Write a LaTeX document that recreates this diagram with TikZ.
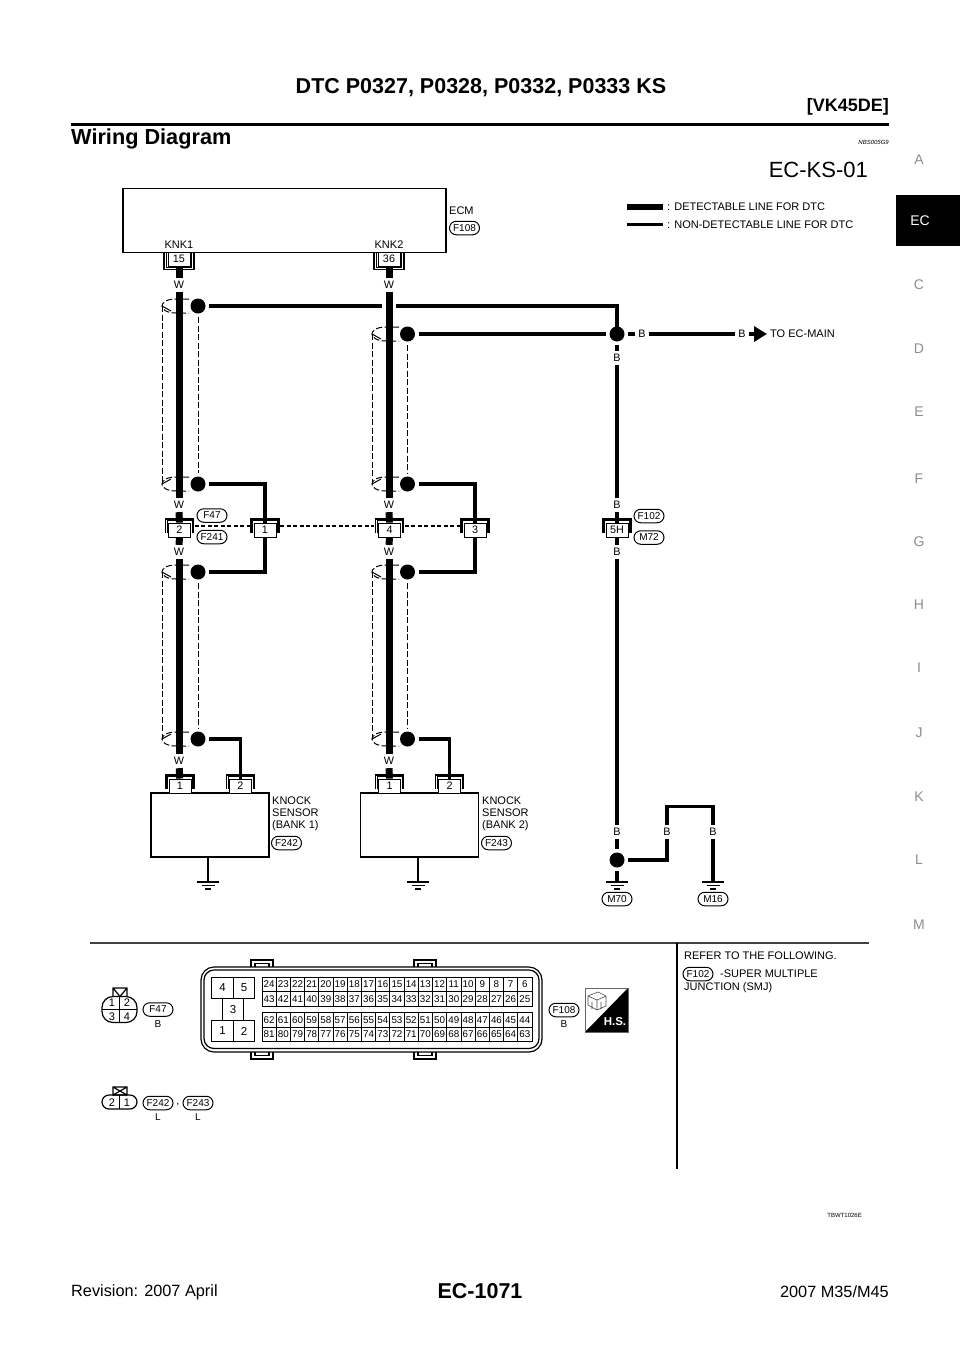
\documentclass[tikz,border=0pt]{standalone}
\usepackage{fontspec}
\setmainfont{Liberation Sans}
\usetikzlibrary{arrows.meta,shapes.misc}
\newcommand{\sizept}[1]{\fontsize{#1}{#1}\selectfont}
\tikzset{
	heavy/.style={line width=7pt},
	light/.style={line width=3.3pt},
	shieldline/.style={line width=1pt,dash pattern=on 6pt off 2.5pt},
	linkline/.style={line width=1.4pt,dash pattern=on 4pt off 2.5pt},
	thinline/.style={line width=1.2pt},
	jointdot/.style={circle,fill=black,inner sep=0pt,minimum size=15pt,outer sep=3.5pt},
	wirelabel/.style={inner sep=0pt,minimum size=14pt,font=\sizept{10.8}},
	pinbox/.style={draw,line width=0.9pt,fill=white,inner sep=0pt,minimum width=22pt,minimum height=14pt,font=\sizept{10.8}},
	cellbox/.style={draw,line width=0.8pt,inner sep=0pt,minimum width=14.21pt,minimum height=14.5pt,font=\sizept{9.8}},
	bigcell/.style={draw,line width=1.1pt,inner sep=0pt,minimum width=21.5pt,minimum height=21.5pt,font=\sizept{11.5}},
	pill/.style={draw,rounded rectangle,line width=1pt,inner sep=0pt,minimum width=30pt,minimum height=13.5pt,font=\sizept{10}},
	note/.style={anchor=west,inner sep=0pt,font=\sizept{11}},
	plain/.style={inner sep=0pt,font=\sizept{11}},
	sideletter/.style={inner sep=0pt,text=black!45,font=\sizept{14}},
}
% connector below a box: name, x, top, label
\newcommand{\pinhang}[4]{%
	\node[pinbox] (#1) at (#2,#3+6.5) {#4};
	\draw[thinline] (#2-15,#3) -- (#2-15,#3+17) -- (#2+15,#3+17) -- (#2+15,#3);
	\draw[line width=0.8pt] (#2-12.5,#3) -- (#2-12.5,#3+15) -- (#2+12.5,#3+15) -- (#2+12.5,#3);
}
% connector entered from above: name, x, middle, label
\newcommand{\pinstand}[4]{%
	\node[pinbox] (#1) at (#2,#3) {#4};
	\draw[thinline] (#2-14,#3+3) -- (#2-14,#3-11) -- (#2+14,#3-11) -- (#2+14,#3+3);
	\draw[line width=0.8pt] (#2-12.5,#3+3) -- (#2-12.5,#3-9.5) -- (#2+12.5,#3-9.5) -- (#2+12.5,#3+3);
}
% ground: name, x, y
\newcommand{\earth}[3]{%
	\coordinate (#1) at (#2,#3);
	\draw[thinline] (#2-11,#3) -- (#2+11,#3) (#2-6.5,#3+3.5) -- (#2+6.5,#3+3.5) (#2-3,#3+7) -- (#2+3,#3+7);
}
% cable shield: wire x, upper y, lower y
\newcommand{\shieldring}[3]{%
	\draw[shieldline] (#1+10,#2-7) -- (#1-3,#2-7) .. controls (#1-13,#2-7) and (#1-17,#2-3) .. (#1-17,#2) .. controls (#1-17,#2+3) and (#1-13,#2+7) .. (#1-3,#2+7) -- (#1+10,#2+7);
	\draw[shieldline] (#1+10,#3-7) -- (#1-3,#3-7) .. controls (#1-13,#3-7) and (#1-17,#3-3) .. (#1-17,#3) .. controls (#1-17,#3+3) and (#1-13,#3+7) .. (#1-3,#3+7) -- (#1+10,#3+7);
	\draw[line width=1pt] (#1-17,#2) -- (#1-8,#2+5) (#1-17,#3) -- (#1-8,#3-5);
	\draw[shieldline] (#1-17,#2) -- (#1-17,#3);
}
\begin{document}
\begin{tikzpicture}[x=1pt,y=-1pt]
	\useasboundingbox (0,0) rectangle (960,1358);
	% page header
	\node[inner sep=0pt,font=\sizept{21.5}\bfseries] (title) at (481,88) {DTC P0327, P0328, P0332, P0333 KS};
	\node[anchor=east,inner sep=0pt,font=\sizept{18}\bfseries] (engine) at (889,107) {[VK45DE]};
	\draw[line width=3pt] (71,124) -- (889,124);
	\node[anchor=west,inner sep=0pt,font=\sizept{21.7}\bfseries] (heading) at (71,139) {Wiring Diagram};
	\node[anchor=east,inner sep=0pt,font=\sizept{6}\itshape] (refcode) at (889,142) {NBS005G9};
	\node[anchor=east,inner sep=0pt,font=\sizept{22}] (sheet) at (868,170) {EC-KS-01};
	% section tabs
	\fill (896,195) rectangle (960,246);
	\node[inner sep=0pt,text=white,font=\sizept{14}] (tabEC) at (920,221) {EC};
	\foreach \l/\y in {A/160,C/285,D/349,E/412,F/479,G/542,H/605,I/668,J/733,K/797,L/860,M/925}
		\node[sideletter] (tab\l) at (919,\y) {\l};
	% the ECM
	\node[draw,line width=1.3pt,minimum width=323pt,minimum height=64pt,inner sep=0pt] (ecm) at (284.5,220.5) {};
	\node[plain] (knkA) at (179,245) {KNK1};
	\node[plain] (knkB) at (389,245) {KNK2};
	\node[note] (ecmText) at (449,211) {ECM};
	\node[pill] (harnessFa) at (464.5,228) {F108};
	\pinhang{pinA}{179}{252.5}{15}
	\pinhang{pinB}{389}{252.5}{36}
	% legend
	\coordinate (legendA) at (627,207);
	\coordinate (legendB) at (627,224.5);
	\node[note,inner xsep=4pt] (legendDet) at (663,207) {: DETECTABLE LINE FOR DTC};
	\node[note,inner xsep=4pt] (legendNon) at (663,224.5) {: NON-DETECTABLE LINE FOR DTC};
	\draw[line width=6.5pt] (legendA) -- (legendDet);
	\draw[light] (legendB) -- (legendNon);
	% shields - must be drawn before the wires!
	\shieldring{179}{306}{484}
	\shieldring{389}{334}{484}
	\shieldring{179}{572}{739}
	\shieldring{389}{572}{739}
	% joints of the shields
	\node[jointdot] (dotA) at (198,306) {};
	\node[jointdot] (dotB) at (198,484) {};
	\node[jointdot] (dotC) at (198,572) {};
	\node[jointdot] (dotD) at (198,739) {};
	\node[jointdot] (dotE) at (407.5,334) {};
	\node[jointdot] (dotF) at (407.5,484) {};
	\node[jointdot] (dotG) at (407.5,572) {};
	\node[jointdot] (dotH) at (407.5,739) {};
	\node[jointdot] (dotJ) at (617,334) {};
	\node[jointdot] (dotK) at (617,860) {};
	\draw[shieldline] (dotA) -- (dotB);
	\draw[shieldline] (dotC) -- (dotD);
	\draw[shieldline] (dotE) -- (dotF);
	\draw[shieldline] (dotG) -- (dotH);
	% wire colours, first bank
	\node[wirelabel] (wireA) at (179,285) {W};
	\node[wirelabel] (wireB) at (179,505) {W};
	\node[wirelabel] (wireC) at (179,552) {W};
	\node[wirelabel] (wireD) at (179,761) {W};
	% wire colours, second bank
	\node[wirelabel] (wireE) at (389,285) {W};
	\node[wirelabel] (wireF) at (389,505) {W};
	\node[wirelabel] (wireG) at (389,552) {W};
	\node[wirelabel] (wireH) at (389,761) {W};
	% middle connectors
	\pinstand{pinC}{179.5}{530}{2}
	\pinstand{pinD}{265}{530}{1}
	\pinstand{pinE}{389.5}{530}{4}
	\pinstand{pinF}{475}{530}{3}
	\pinstand{pinG}{617}{530}{5H}
	\draw[linkline] ([shift={(4pt,4pt)}]pinC.east) -- ([shift={(-4pt,4pt)}]pinD.west);
	\draw[linkline] ([shift={(4pt,4pt)}]pinD.east) -- ([shift={(-4pt,4pt)}]pinE.west);
	\draw[linkline] ([shift={(4pt,4pt)}]pinE.east) -- ([shift={(-4pt,4pt)}]pinF.west);
	\node[pill] (harnessFb) at (212,515.5) {F47};
	\node[pill] (harnessFc) at (212,537) {F241};
	\node[pill] (harnessFd) at (649,516) {F102};
	\node[pill] (harnessMa) at (649,537.5) {M72};
	% knock sensors
	\node[draw,line width=1.3pt,minimum width=118pt,minimum height=64pt,inner sep=0pt] (sensorA) at (210,825) {};
	\node[draw,line width=1.3pt,minimum width=118pt,minimum height=64pt,inner sep=0pt] (sensorB) at (419.5,825) {};
	\pinstand{pinH}{180}{786}{1}
	\pinstand{pinJ}{240.5}{786}{2}
	\pinstand{pinK}{389.5}{786}{1}
	\pinstand{pinL}{449.5}{786}{2}
	\node[anchor=north west,align=left,inner sep=0pt,font=\fontsize{11}{11.8}\selectfont] (sensorAText) at (272,797) {KNOCK\\SENSOR\\(BANK 1)};
	\node[anchor=north west,align=left,inner sep=0pt,font=\fontsize{11}{11.8}\selectfont] (sensorBText) at (482,797) {KNOCK\\SENSOR\\(BANK 2)};
	\node[pill] (harnessFe) at (286.5,843) {F242};
	\node[pill] (harnessFf) at (496.5,843) {F243};
	\earth{groundA}{208}{882}
	\earth{groundB}{418}{882}
	\draw[thinline] (sensorA.south -| groundA) -- (groundA);
	\draw[thinline] (sensorB.south -| groundB) -- (groundB);
	% heavy wires
	\draw[heavy] (pinA) -- (wireA);
	\draw[heavy] (wireA) -- (wireB);
	\draw[heavy] (wireB) -- (pinC);
	\draw[heavy] (pinC) -- (wireC);
	\draw[heavy] (wireC) -- (wireD);
	\draw[heavy] (wireD) -- (pinH);
	\draw[heavy] (pinB) -- (wireE);
	\draw[heavy] (wireE) -- (wireF);
	\draw[heavy] (wireF) -- (pinE);
	\draw[heavy] (pinE) -- (wireG);
	\draw[heavy] (wireG) -- (wireH);
	\draw[heavy] (wireH) -- (pinK);
	% light wires of the shields
	\node[inner sep=0pt,minimum width=14pt] (gapA) at (389,306) {};
	\draw[light] (dotA) -- (gapA);
	\draw[light] (gapA) -| (dotJ.center);
	\draw[light] (dotE) -- (dotJ);
	\draw[light] (dotB) -| (pinD);
	\draw[light] (pinD) |- (dotC);
	\draw[light] (dotF) -| (pinF);
	\draw[light] (pinF) |- (dotG);
	\draw[light] (dotD) -| (pinJ);
	\draw[light] (dotH) -| (pinL);
	% line to the main sheet
	\node[wirelabel] (wireJ) at (642,334) {B};
	\node[wirelabel] (wireK) at (742,334) {B};
	\node[note,inner xsep=3pt] (toMain) at (767,334) {TO EC-MAIN};
	\draw[light] (dotJ) -- (wireJ);
	\draw[light] (wireJ) -- (wireK);
	\draw[light,-{Triangle[length=13pt,width=15pt]}] (wireK) -- (toMain);
	% line to the grounds
	\node[wirelabel] (wireL) at (617,358) {B};
	\node[wirelabel] (wireM) at (617,505) {B};
	\node[wirelabel] (wireN) at (617,552) {B};
	\node[wirelabel] (wireP) at (617,832) {B};
	\node[wirelabel] (wireQ) at (667,832) {B};
	\node[wirelabel] (wireR) at (713,832) {B};
	\coordinate (bendG) at (690,806.5);
	\earth{groundC}{617}{882}
	\earth{groundD}{713}{882}
	\draw[light] (dotJ) -- (wireL);
	\draw[light] (wireL) -- (wireM);
	\draw[light] (wireM) -- (pinG);
	\draw[light] (pinG) -- (wireN);
	\draw[light] (wireN) -- (wireP);
	\draw[light] (wireP) -- (dotK);
	\draw[light] (dotK) -- (groundC);
	\draw[light] (dotK) -| (wireQ);
	\draw[light] (wireQ) |- (bendG) -| (wireR);
	\draw[light] (wireR) -- (groundD);
	\node[pill] (harnessMb) at (617,899) {M70};
	\node[pill] (harnessMc) at (713,899) {M16};
	% lower part of the page
	\draw[line width=2pt,black!75] (90,942.5) -- (869,942.5);
	\draw[line width=1.3pt] (677,943) -- (677,1169);
	\node[note] (referA) at (684,956) {REFER TO THE FOLLOWING.};
	\node[pill] (harnessFg) at (698,974) {F102};
	\node[note] (referB) at (720,974) {-SUPER MULTIPLE};
	\node[note] (referC) at (684,988) {JUNCTION (SMJ)};
	% connector of four pins
	\draw[thinline,rounded corners=11pt] (102,996.5) rectangle (137,1022.5);
	\draw[thinline] (102,1009.5) -- (137,1009.5) (119.5,996.5) -- (119.5,1022.5);
	\draw[thinline] (113,996.5) -- (113,988) -- (127,988) -- (127,996.5) (113,988) -- (120,996.5) -- (127,988);
	\node[plain] (pinSmallA) at (112,1003) {1};
	\node[plain] (pinSmallB) at (127,1003) {2};
	\node[plain] (pinSmallC) at (112,1016.5) {3};
	\node[plain] (pinSmallD) at (127,1016.5) {4};
	\node[pill] (harnessFh) at (158,1009.5) {F47};
	\node[plain,font=\sizept{10}] (colourA) at (158,1024) {B};
	% connector of two pins
	\draw[thinline,rounded corners=7pt] (102,1095) rectangle (137,1109);
	\draw[thinline] (119.5,1095) -- (119.5,1109);
	\draw[thinline] (113,1087) rectangle (127,1095) (113,1087) -- (127,1095) (113,1095) -- (127,1087);
	\node[plain] (pinSmallE) at (112,1102.5) {2};
	\node[plain] (pinSmallF) at (127,1102.5) {1};
	\node[pill] (harnessFj) at (158,1103) {F242};
	\node[plain] (comma) at (178,1105) {,};
	\node[pill] (harnessFk) at (198,1103) {F243};
	\node[plain,font=\sizept{10}] (colourB) at (158,1117) {L};
	\node[plain,font=\sizept{10}] (colourC) at (198,1117) {L};
	% the big connector
	\draw[thinline,rounded corners=13pt] (201,967) rectangle (542,1052);
	\draw[thinline,rounded corners=10pt] (204,970) rectangle (539,1048.5);
	\foreach \x in {251,414} {
		\draw[thinline] (\x,967) -- (\x,960) -- (\x+22,960) -- (\x+22,967);
		\draw[thinline] (\x+4,967) -- (\x+4,963.5) -- (\x+18,963.5) -- (\x+18,967);
		\draw[thinline] (\x,1052) -- (\x,1059) -- (\x+22,1059) -- (\x+22,1052);
		\draw[thinline] (\x+4,1052) -- (\x+4,1055.5) -- (\x+18,1055.5) -- (\x+18,1052);
	}
	\node[bigcell] (bigD) at (222.5,988) {4};
	\node[bigcell] (bigE) at (244,988) {5};
	\node[bigcell] (bigC) at (233,1009.5) {3};
	\node[bigcell] (bigA) at (222.5,1031) {1};
	\node[bigcell] (bigB) at (244,1031) {2};
	\foreach \n [count=\i from 0] in {24,23,...,6}
		\node[cellbox] (cell\n) at (269.1+14.21*\i,984.5) {\n};
	\foreach \n [count=\i from 0] in {43,42,...,25}
		\node[cellbox] (cell\n) at (269.1+14.21*\i,999) {\n};
	\foreach \n [count=\i from 0] in {62,61,...,44}
		\node[cellbox] (cell\n) at (269.1+14.21*\i,1020) {\n};
	\foreach \n [count=\i from 0] in {81,80,...,63}
		\node[cellbox] (cell\n) at (269.1+14.21*\i,1034.5) {\n};
	\node[pill] (harnessFm) at (564,1010) {F108};
	\node[plain,font=\sizept{10}] (colourD) at (564,1024) {B};
	% harness symbol
	\fill (628,988) -- (628,1032) -- (585,1032) -- cycle;
	\draw[line width=0.8pt,black!60] (585,988) rectangle (628,1032);
	\draw[line width=0.6pt,black!70] (588,996) -- (598,992) -- (606,996) -- (606,1006) -- (597,1010) -- (588,1005) -- cycle (588,996) -- (597,1000) -- (606,996) (597,1000) -- (597,1010) (592,1002) -- (592,1009) (601,1002) -- (601,1009);
	\node[inner sep=0pt,text=white,font=\sizept{11.5}\bfseries] (hsText) at (615,1021.5) {H.S.};
	% page footer
	\node[anchor=east,inner sep=0pt,font=\sizept{6}] (figcode) at (862,1215) {TBWT1026E};
	\node[anchor=west,inner sep=0pt,font=\sizept{16.3}] (revision) at (71,1292) {Revision: 2007 April};
	\node[inner sep=0pt,font=\sizept{21.5}\bfseries] (pageno) at (480,1291) {EC-1071};
	\node[anchor=east,inner sep=0pt,font=\sizept{16.3}] (model) at (889,1292) {2007 M35/M45};
\end{tikzpicture}
\end{document}
